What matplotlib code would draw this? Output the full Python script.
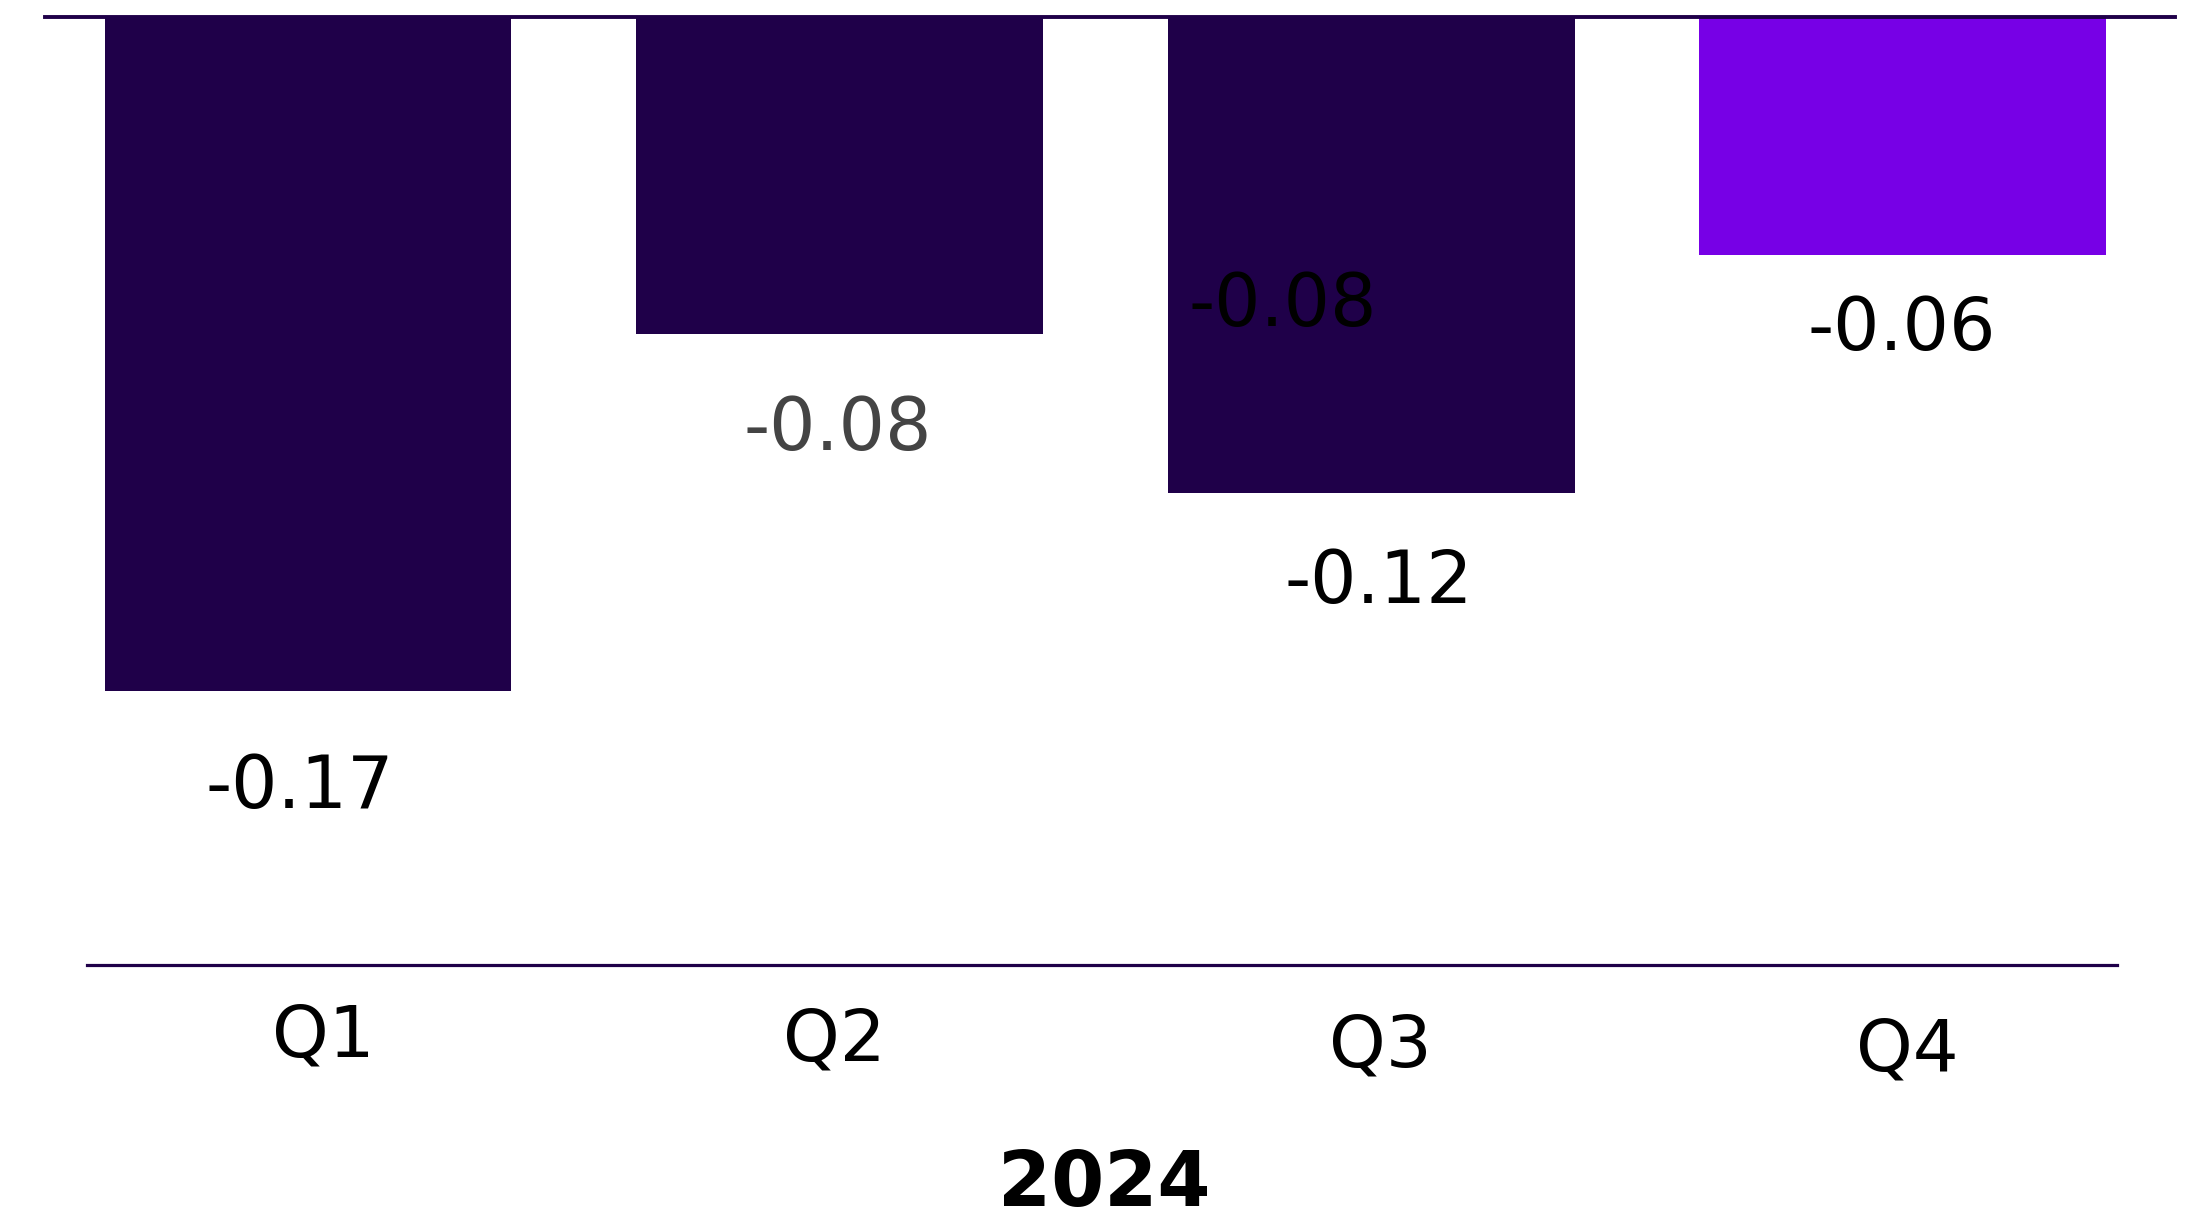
import matplotlib
matplotlib.use("Agg")
import matplotlib.pyplot as plt
from matplotlib.transforms import ScaledTranslation
from matplotlib.lines import Line2D

# Quarterly values for 2024
quarters = ["Q1", "Q2", "Q3", "Q4"]
values = [-0.17, -0.08, -0.12, -0.06]
year_label = "2024"

DARK = "#1f0049"
HIGHLIGHT = "#7700e6"
bar_colors = [DARK, DARK, DARK, HIGHLIGHT]
label_colors = ["black", "#444444", "black", "black"]

DPI = 100
W, H = 2203, 1220
fig = plt.figure(figsize=(W / DPI, H / DPI), dpi=DPI)
plt.rcParams["font.family"] = ["DejaVu Sans"]

# axes box in pixels: left 87, right 2117, top 17, bottom 965
ax = fig.add_axes([87 / W, (H - 965) / H, (2117 - 87) / W, (965 - 17) / H])

x = list(range(len(quarters)))
ax.bar(x, values, width=0.765, color=bar_colors, zorder=2)
ax.set_xlim(-0.416, 3.403)
ax.set_ylim(-0.2391, 0)

for side in ("left", "right", "top"):
    ax.spines[side].set_visible(False)
ax.spines["bottom"].set_color(DARK)
ax.spines["bottom"].set_linewidth(2.3)
ax.set_yticks([])
ax.set_xticks([])


def px(dx, dy):
    return ScaledTranslation(dx / DPI, dy / DPI, fig.dpi_scale_trans)


# value labels below each bar (offsets in pixels)
label_dx = [-8, -2, 8, -1]
label_dy = [-117, -116, -110, -95]
for xi, v, c, dx, dy in zip(x, values, label_colors, label_dx, label_dy):
    ax.text(xi, v, f"{v:.2f}", ha="center", va="baseline", fontsize=52.5,
            color=c, transform=ax.transData + px(dx, dy))

# extra label sitting inside the third bar
ax.text(2, 0, f"{values[1]:.2f}", ha="left", va="baseline", fontsize=52.5,
        color="black", transform=ax.transData + px(-183, -309), zorder=3)

# category labels under the axis, slightly staggered
tick_dx = [15, -5, 9, 5]
tick_dy = [-91, -96, -101, -106]
for xi, q, dx, dy in zip(x, quarters, tick_dx, tick_dy):
    ax.text(xi, 0, q, ha="center", va="baseline", fontsize=52,
            color="black", transform=ax.get_xaxis_transform() + px(dx, dy))

ax.text(0.5, 0, year_label, ha="center", va="baseline", fontsize=55,
        fontweight="bold", color="black",
        transform=ax.transAxes + px(2, -241))

# zero line across the top, wider than the axes
fig.add_artist(Line2D([45 / W, 2175 / W], [(H - 17) / H, (H - 17) / H],
                      color=DARK, linewidth=2.8, transform=fig.transFigure,
                      zorder=5))

fig.savefig("out.png", dpi=DPI, facecolor="white")
